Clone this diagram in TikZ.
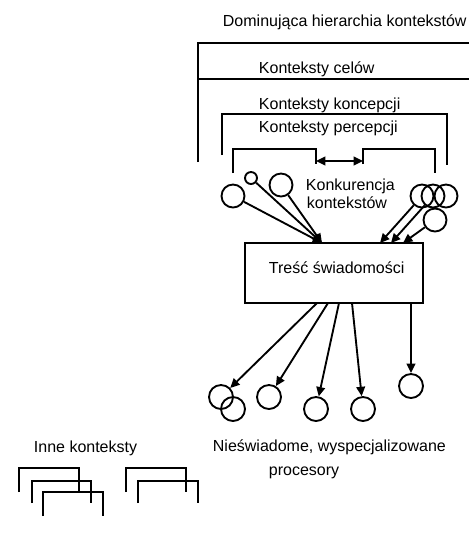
\documentclass[tikz,border=0pt]{standalone}
\usepackage{fontspec}
\setmainfont{Liberation Sans}
\usetikzlibrary{arrows.meta}
\begin{document}
\begin{tikzpicture}[x=0.75pt,y=-0.75pt,line width=1.4pt,
  txt/.style={anchor=base west, inner sep=0pt, font=\fontsize{12}{14}\selectfont},
  ctx/.style={circle, draw, minimum size=17.25pt, inner sep=0pt},
  proc/.style={circle, draw, minimum size=18pt, inner sep=0pt},
  arr/.style={-{Triangle[length=7pt,width=6.5pt]}},
  box/.style={draw, minimum width=133.5pt, minimum height=45pt}]
\useasboundingbox (0,0) rectangle (469,533);
% labels
\node[txt] (tdom) at (222,26.5) {Dominująca hierarchia kontekstów};
\node[txt] (tcel) at (258,73.5) {Konteksty celów};
\node[txt] (tkon) at (258,109) {Konteksty koncepcji};
\node[txt] (tper) at (258,132.5) {Konteksty percepcji};
\node[txt] (tkk1) at (305,190.5) {Konkurencja};
\node[txt] (tkk2) at (306,208.5) {kontekstów};
\node[txt] (tnie) at (212,451.5) {Nieświadome, wyspecjalizowane};
\node[txt] (tpro) at (268,475) {procesory};
\node[txt] (tinn) at (33,452.5) {Inne konteksty};
% brackets
\draw (198,162) -- (198,43) -- (469,43);
\draw (198,79) -- (469,79);
\draw (222,155) -- (222,114) -- (447,114) -- (447,165);
\draw (233,173) -- (233,149) -- (316,149) -- (316,164);
\draw (363,164) -- (363,149) -- (435,149) -- (435,173);
\coordinate (kl) at (316,161);
\coordinate (kr) at (363,161);
\draw[{Triangle[length=7pt,width=6.5pt]}-{Triangle[length=7pt,width=6.5pt]}] (kl) -- (kr);
% other contexts
\draw (19,492) -- (19,468) -- (79,468) -- (79,492);
\draw (32,503) -- (32,481) -- (91,481) -- (91,503);
\draw (43,516) -- (43,492) -- (103,492) -- (103,516);
\draw (126,492) -- (126,468) -- (186,468) -- (186,492);
\draw (138,503) -- (138,481) -- (198,481) -- (198,503);
% content of consciousness
\node[box] (tresc) at (334,273) {};
\node[txt] (ttre) at (268,273.5) {Treść świadomości};
% competing contexts
\node[ctx] (c1) at (233,196) {};
\node[circle, draw, minimum size=9pt, inner sep=0pt] (c2) at (251,178) {};
\node[ctx] (c3) at (281,185) {};
\node[ctx] (c4) at (422,196) {};
\node[ctx] (c5) at (433,196) {};
\node[ctx] (c6) at (446,196) {};
\node[ctx] (c7) at (435,220) {};
\coordinate (i1) at (322,243);
\coordinate (i2) at (380,243);
\coordinate (i3) at (391,243);
\coordinate (i4) at (403,243);
\draw[arr] (c1) -- (i1);
\draw[arr] (c2) -- (i1);
\draw[arr] (c3) -- (i1);
\draw[arr] (c4) -- (i2);
\draw[arr] (c5) -- (i3);
\draw[arr] (c7) -- (i4);
% processors
\node[proc] (p1) at (221,397) {};
\node[proc] (p2) at (233,409) {};
\node[proc] (p3) at (269,397) {};
\node[proc] (p4) at (316,409) {};
\node[proc] (p5) at (363,409) {};
\node[proc] (p6) at (411,386) {};
\coordinate (o1) at (317,303);
\coordinate (o2) at (328,303);
\coordinate (o3) at (339,303);
\coordinate (o4) at (352,303);
\coordinate (o5) at (411,303);
\draw[arr] (o1) -- (p1);
\draw[arr] (o2) -- (p3);
\draw[arr] (o3) -- (p4);
\draw[arr] (o4) -- (p5);
\draw[arr] (o5) -- (p6);
\end{tikzpicture}
\end{document}
